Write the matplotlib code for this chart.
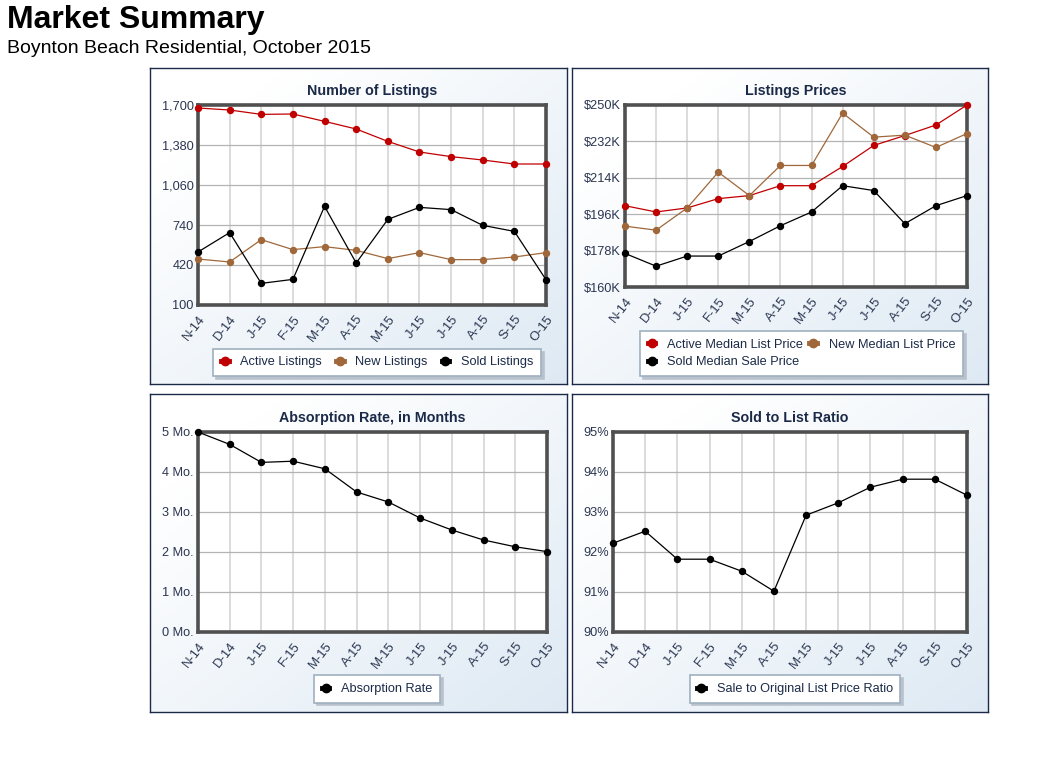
import numpy as np
import matplotlib.pyplot as plt
from matplotlib.lines import Line2D

plt.rcParams['font.family'] = ['Liberation Sans', 'DejaVu Sans']

W, H = 1056, 776

months = ["N-14", "D-14", "J-15", "F-15", "M-15", "A-15",
          "M-15", "J-15", "J-15", "A-15", "S-15", "O-15"]

# Number of Listings
active_listings = [1676, 1660, 1625, 1628, 1569, 1508, 1409, 1324, 1287, 1260, 1228, 1228]
new_listings = [468, 444, 623, 543, 567, 537, 471, 519, 463, 463, 484, 519]
sold_listings = [524, 679, 273, 305, 889, 436, 785, 881, 863, 737, 689, 302]

# Listings Prices ($K)
active_price = [200.2, 197.1, 199.1, 203.7, 205.2, 210.1, 210.1, 219.6, 230.0, 234.9, 240.1, 250.0]
new_price = [190.1, 188.1, 199.1, 216.8, 205.2, 220.1, 220.1, 246.0, 234.1, 235.1, 229.0, 235.9]
sold_price = [176.6, 170.3, 175.3, 175.3, 182.5, 190.3, 197.1, 210.1, 207.7, 191.3, 200.2, 205.2]

# Absorption Rate (months)
absorption = [5.0, 4.69, 4.24, 4.27, 4.08, 3.50, 3.25, 2.85, 2.55, 2.30, 2.13, 2.01]

# Sold to List Ratio (%)
sold_ratio = [92.22, 92.52, 91.82, 91.82, 91.52, 91.02, 92.92, 93.23, 93.62, 93.82, 93.82, 93.42]

RED = "#c00000"
BROWN = "#a0683a"
BLACK = "#000000"
NAVY = "#1b2a48"
TXT = "#2a3550"

fig = plt.figure(figsize=(W / 100, H / 100), dpi=100)


def fx(x):
    return x / W


def fy(y):
    return 1 - y / H


################################
# PANEL BACKGROUNDS
################################

def panel(x0, y0, x1, y1):
    bg = fig.add_axes([fx(x0), fy(y1), fx(x1 - x0), (y1 - y0) / H], zorder=0)
    gx, gy = np.meshgrid(np.linspace(0, 1, 200), np.linspace(0, 1, 200))
    t = np.clip(0.6 * gx + 0.6 * gy - 0.2, 0, 1)
    c0 = np.array([1.0, 1.0, 1.0])
    c1 = np.array([0.87, 0.915, 0.955])
    img = c0[None, None, :] * (1 - t[..., None]) + c1[None, None, :] * t[..., None]
    bg.imshow(img, extent=[0, 1, 0, 1], aspect="auto", origin="upper")
    bg.set_xlim(0, 1)
    bg.set_ylim(0, 1)
    bg.set_xticks([])
    bg.set_yticks([])
    for s in bg.spines.values():
        s.set_color(NAVY)
        s.set_linewidth(1.0)


panel(150, 68, 567, 384)
panel(572, 68, 988, 384)
panel(150, 394, 567, 712)
panel(572, 394, 988, 712)


################################
# CHART AXES
################################

def chart(x0, y0, x1, y1, title, yticks, ylabels):
    ax = fig.add_axes([fx(x0), fy(y1), fx(x1 - x0), (y1 - y0) / H], zorder=2)
    ax.set_facecolor("white")
    x = np.arange(len(months))
    ax.set_xlim(0, len(months) - 1)
    ax.set_ylim(yticks[0], yticks[-1])
    ax.set_xticks(x)
    ax.set_xticklabels(months, rotation=52, ha="right", rotation_mode="anchor",
                       fontsize=9.4, color=TXT)
    ax.set_yticks(yticks)
    ax.set_yticklabels(ylabels, fontsize=9.2, color=TXT)
    ax.tick_params(length=0, pad=3)
    ax.tick_params(axis="x", pad=6)
    ax.grid(axis="x", color="#dcdcdc", linewidth=1.4, zorder=0)
    ax.grid(axis="y", color="#b4b4b4", linewidth=0.9, zorder=0)
    ax.set_axisbelow(True)
    for s in ax.spines.values():
        s.set_color("#505050")
        s.set_linewidth(2.6)
    ax.set_title(title, fontsize=10.3, fontweight="bold", color=NAVY, pad=7)
    return ax, x


def series(ax, x, y, color, label):
    ax.plot(x, y, color=color, linewidth=0.9, marker="o", markersize=4.3,
            label=label, clip_on=False, zorder=3)


def legend(ax, handles, cx, cy, ncol, colsp=0.5):
    leg = fig.legend(handles=handles, loc="center", bbox_to_anchor=(fx(cx), fy(cy)),
                     ncol=ncol, fontsize=9.2, frameon=True, fancybox=False,
                     shadow={"color": "#b9c2cc", "alpha": 1.0},
                     handlelength=0.6, handletextpad=0.9, columnspacing=colsp,
                     borderpad=0.6, labelspacing=0.45, edgecolor="#9fb0c0",
                     framealpha=1.0)
    leg.get_frame().set_linewidth(1.2)
    for t in leg.get_texts():
        t.set_color(NAVY)
    return leg


def handle(color, label):
    return Line2D([0], [0], color=color, linewidth=3.5, marker="o",
                  markersize=6, label=label)


# Number of Listings
ax1, x = chart(198, 105, 546, 305, "Number of Listings",
               [100, 420, 740, 1060, 1380, 1700],
               ["100", "420", "740", "1,060", "1,380", "1,700"])
series(ax1, x, active_listings, RED, "Active Listings")
series(ax1, x, new_listings, BROWN, "New Listings")
series(ax1, x, sold_listings, BLACK, "Sold Listings")
legend(ax1, [handle(RED, "Active Listings"), handle(BROWN, "New Listings"),
             handle(BLACK, "Sold Listings")], 377, 362.5, 3, colsp=1.1)

# Listings Prices
ax2, x = chart(625, 105, 967, 287, "Listings Prices",
               [160, 178, 196, 214, 232, 250],
               ["$160K", "$178K", "$196K", "$214K", "$232K", "$250K"])
series(ax2, x, active_price, RED, "Active Median List Price")
series(ax2, x, new_price, BROWN, "New Median List Price")
series(ax2, x, sold_price, BLACK, "Sold Median Sale Price")
legend(ax2, [handle(RED, "Active Median List Price"),
             handle(BLACK, "Sold Median Sale Price"),
             handle(BROWN, "New Median List Price")], 801.5, 353.5, 2)

# Absorption Rate
ax3, x = chart(198, 432, 547, 632, "Absorption Rate, in Months",
               [0, 1, 2, 3, 4, 5],
               ["0 Mo.", "1 Mo.", "2 Mo.", "3 Mo.", "4 Mo.", "5 Mo."])
series(ax3, x, absorption, BLACK, "Absorption Rate")
legend(ax3, [handle(BLACK, "Absorption Rate")], 377, 689, 1)

# Sold to List Ratio
ax4, x = chart(613, 432, 967, 632, "Sold to List Ratio",
               [90, 91, 92, 93, 94, 95],
               ["90%", "91%", "92%", "93%", "94%", "95%"])
series(ax4, x, sold_ratio, BLACK, "Sale to Original List Price Ratio")
legend(ax4, [handle(BLACK, "Sale to Original List Price Ratio")], 795, 689, 1)

################################
# HEADER
################################

fig.text(fx(7), fy(28), "Market Summary", fontsize=23, fontweight="bold",
         color="black", va="baseline", ha="left")
fig.text(fx(7), fy(53), "Boynton Beach Residential, October 2015", fontsize=14,
         color="black", va="baseline", ha="left")

fig.savefig("out.png", dpi=100, facecolor="white")
